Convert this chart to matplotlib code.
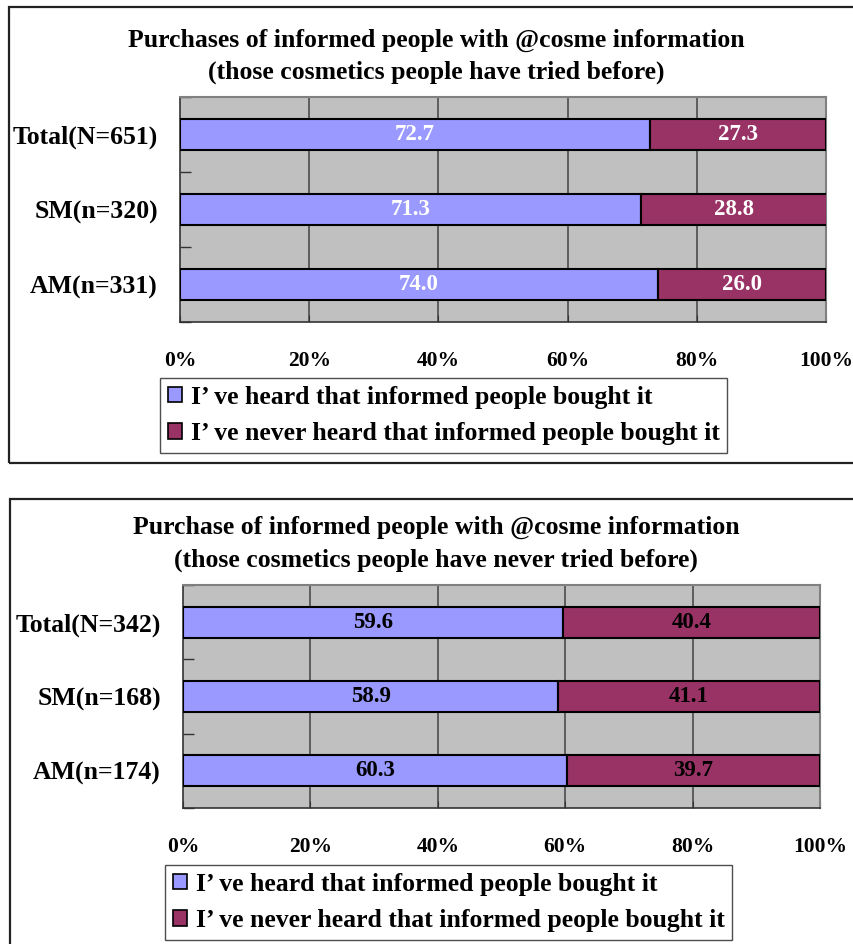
import matplotlib
matplotlib.use("Agg")
import matplotlib.pyplot as plt
from matplotlib.patches import Rectangle, Patch
from matplotlib.ticker import FixedLocator

categories = ["Total(N=651)", "SM(n=320)", "AM(n=331)"]
heard_1 = [72.7, 71.3, 74.0]
never_1 = [27.3, 28.8, 26.0]

categories_2 = ["Total(N=342)", "SM(n=168)", "AM(n=174)"]
heard_2 = [59.6, 58.9, 60.3]
never_2 = [40.4, 41.1, 39.7]

titles_1 = ["Purchases of informed people with @cosme information",
            "(those cosmetics people have tried before)"]
titles_2 = ["Purchase of informed people with @cosme information",
            "(those cosmetics people have never tried before)"]
legend_labels = ["I\u2019 ve heard that informed people bought it",
                 "I\u2019 ve never heard that informed people bought it"]
xticks = [0, 20, 40, 60, 80, 100]
xticklabels = ["0%", "20%", "40%", "60%", "80%", "100%"]

BLUE = "#9999FF"
MAROON = "#993366"
GRAY = "#C0C0C0"
FONT = "Liberation Serif"

W, H = 854, 944
fig = plt.figure(figsize=(W / 100, H / 100), dpi=100)
plt.rcParams['font.family'] = FONT


def fx(x):
    return x / W


def fy(y):
    return 1 - y / H


def panel(box, ax_box, title_ys, cats, heard, never, title, legend_xy, label_color):
    x0, y0, x1, y1 = box
    fig.add_artist(Rectangle((fx(x0), fy(y1)), fx(x1) - fx(x0), fy(y0) - fy(y1),
                             transform=fig.transFigure, fill=False, edgecolor="#222222", lw=1.6))
    for line, ty in zip(title, title_ys):
        fig.text(fx(436), fy(ty), line, ha="center", va="center", fontsize=18.5,
                 fontweight="bold")
    l, t, r, b = ax_box
    ax = fig.add_axes([fx(l), fy(b), fx(r) - fx(l), fy(t) - fy(b)])
    ax.set_facecolor(GRAY)
    pos = list(range(len(cats)))
    ax.barh(pos, heard, height=0.42, color=BLUE, edgecolor="black", lw=1.5, zorder=3)
    ax.barh(pos, never, left=heard, height=0.42, color=MAROON, edgecolor="black", lw=1.5, zorder=3)
    for p, h, n in zip(pos, heard, never):
        ax.text(h / 2, p, f"{h:.1f}", ha="center", va="center", color=label_color,
                fontsize=16.5, fontweight="bold", zorder=4)
        ax.text(h + n / 2, p, f"{n:.1f}", ha="center", va="center", color=label_color,
                fontsize=16.5, fontweight="bold", zorder=4)
    ax.set_xlim(0, 100)
    ax.set_ylim(len(cats) - 0.5, -0.5)
    ax.set_xticks(xticks)
    ax.set_xticklabels(xticklabels, fontsize=15.5, fontweight="bold")
    ax.tick_params(axis="x", direction="in", length=5, pad=21, color="#333333")
    ax.set_yticks(pos)
    ax.set_yticklabels(cats, fontsize=18.5, fontweight="bold")
    ax.tick_params(axis="y", which="major", length=0, pad=16)
    ax.yaxis.set_minor_locator(FixedLocator([-0.5 + i for i in range(len(cats) + 1)]))
    ax.tick_params(axis="y", which="minor", direction="in", length=8, color="#333333", width=1)
    for xv in xticks[1:-1]:
        ax.axvline(xv, color="#555555", lw=1.3, zorder=1)
    for s in ["left", "bottom"]:
        ax.spines[s].set_color("#333333")
        ax.spines[s].set_linewidth(1.2)
    for s in ["top", "right"]:
        ax.spines[s].set_color("#808080")
        ax.spines[s].set_linewidth(1.5)
    handles = [Patch(facecolor=BLUE, edgecolor="black", lw=1.2),
               Patch(facecolor=MAROON, edgecolor="black", lw=1.2)]
    leg = fig.legend(handles, legend_labels, loc="upper left",
                     bbox_to_anchor=(fx(legend_xy[0]), fy(legend_xy[1])),
                     frameon=True, fancybox=False,
                     prop={"family": FONT, "weight": "bold", "size": 18.5},
                     handlelength=0.55, handleheight=0.55, handletextpad=0.35,
                     borderpad=0.3, labelspacing=0.52, borderaxespad=0)
    leg.get_frame().set_edgecolor("#222222")
    leg.get_frame().set_linewidth(1.0)
    return ax


panel((9, 7, 870, 463), (180, 97, 826, 322), (40, 72), categories, heard_1, never_1, titles_1, (160, 378), "white")
panel((10, 499, 870, 960), (183, 585, 820, 808), (527, 560), categories_2, heard_2, never_2, titles_2, (165, 865), "black")

fig.savefig("out.png", dpi=100)
